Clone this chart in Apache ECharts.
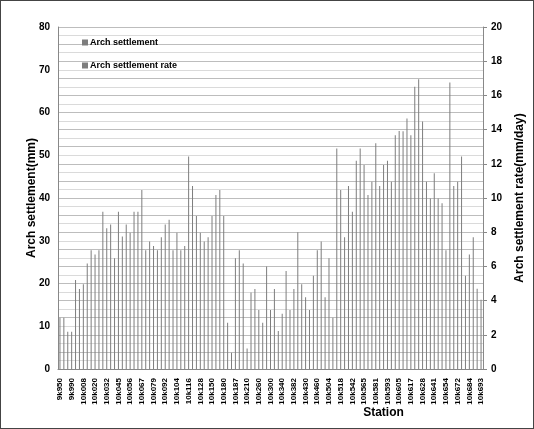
<!DOCTYPE html>
<html><head><meta charset="utf-8">
<script src="https://cdn.jsdelivr.net/npm/echarts@6/dist/echarts.min.js"></script>
<style>
html,body{margin:0;padding:0;background:#fff;}
#c{position:absolute;left:0;top:0;width:534px;height:429px;}
#frame{position:absolute;left:0;top:0;width:534px;height:429px;box-sizing:border-box;border:1px solid #444;pointer-events:none;}
</style></head>
<body>
<div id="c"></div><div id="frame"></div>
<script>
// Tick labels shown on the station axis (every third station)
const stationLabels = ['9k950','9k990','10k008','10k020','10k032','10k045','10k056','10k067','10k079','10k092','10k104','10k116','10k128','10k150','10k180','10k187','10k210','10k260','10k300','10k340','10k382','10k430','10k460','10k504','10k518','10k542','10k565','10k581','10k593','10k605','10k617','10k628','10k641','10k654','10k672','10k684','10k693'];
const stationsPerLabel = 3;
const stationCount = 109;

// Arch settlement (mm), left axis
const settlement = [
 12, 12, 8.7, 8.7, 20.8, 18.7, 19.8, 24.7, 27.8, 26.8,
 27.8, 36.8, 32.9, 33.8, 25.9, 36.8, 31, 33.8, 31.9, 36.8,
 36.8, 41.9, 27.8, 29.8, 28.8, 27.8, 30.8, 33.8, 34.9, 27.8,
 31.9, 27.8, 28.8, 49.7, 42.8, 35.8, 31.9, 29.8, 30.8, 35.8,
 40.7, 41.9, 35.8, 10.8, null, 25.9, 27.8, 24.7, 4.8, 17.9,
 18.7, 13.8, null, null, null, 18.7, 8.9, 12.9, 22.9, 13.8,
 18.7, null, null, 16.8, 13.8, 21.8, 27.8, 29.8, 16.8, 25.9,
 null, null, 41.9, 30.8, 42.8, 36.8, 48.7, 51.6, 47.7, 40.7,
 43.8, 52.8, 42.8, 47.7, 48.7, 43.8, 54.7, 55.7, null, null,
 54.7, 66, 67.8, 57.9, 43.8, 39.9, 45.8, 39.9, 38.8, 27.8,
 67, 42.8, 43.8, 49.7, 21.8, 26.8, null, null, null
];
// Arch settlement rate (mm/day), right axis
const rate = [
 null, null, null, null, null, null, null, null, null, null,
 null, null, null, null, null, null, null, null, null, null,
 null, null, null, null, null, null, null, null, null, null,
 null, null, null, null, null, null, null, null, null, null,
 null, null, null, null, 0.95, null, null, null, null, null,
 null, null, 2.7, 6.0, 3.45, null, null, null, null, null,
 null, 8.0, 4.95, null, null, null, null, null, null, null,
 3.0, 12.9, null, null, null, null, null, null, null, null,
 null, null, null, null, null, null, null, null, 13.9, 14.65,
 null, null, null, null, null, null, null, null, null, null,
 null, null, null, null, null, null, 7.7, 4.7, 4.05
];

const categories = [];
for (let i = 0; i < stationCount; i++) {
  categories.push(i % stationsPerLabel === 0 ? stationLabels[i / stationsPerLabel] : '#' + i);
}

const FONT = 'Liberation Sans';
const barColor = '#7d7d7d';
const chart = echarts.init(document.getElementById('c'), null, {renderer: 'canvas'});
chart.setOption({
  animation: false,
  backgroundColor: '#fff',
  textStyle: {fontFamily: FONT},
  grid: {left: 58, right: 50, top: 27, bottom: 60, containLabel: false},
  legend: {
    orient: 'vertical', left: 82, top: 38, itemWidth: 6, itemHeight: 6, itemGap: 14, padding: 0,
    icon: 'rect',
    textStyle: {fontSize: 9, fontWeight: 'bold', color: '#000', fontFamily: FONT, padding: [0, 0, 0, -3]},
    data: ['Arch settlement', 'Arch settlement rate']
  },
  xAxis: {
    type: 'category', data: categories, boundaryGap: true,
    name: 'Station', nameLocation: 'middle', nameGap: 38, nameMoveOverlap: false,
    nameTextStyle: {fontSize: 12, fontWeight: 'bold', color: '#000', padding: [0, 0, 0, 226]},
    axisLine: {lineStyle: {color: '#888'}},
    axisTick: {show: false},
    axisLabel: {
      interval: 0, rotate: 90, fontSize: 8, fontWeight: 'bold', color: '#000', margin: 9,
      formatter: v => v.charAt(0) === '#' ? '' : v
    },
    splitLine: {show: false}
  },
  yAxis: [
    {
      type: 'value', min: 0, max: 80, interval: 10,
      name: 'Arch settlement(mm)', nameLocation: 'middle', nameGap: 20, nameRotate: 90, nameMoveOverlap: false,
      nameTextStyle: {fontSize: 12, fontWeight: 'bold', color: '#000'},
      axisLine: {show: true, lineStyle: {color: '#888'}},
      axisTick: {show: false},
      axisLabel: {fontSize: 10, fontWeight: 'bold', color: '#000', margin: 8},
      splitLine: {show: true, lineStyle: {color: '#dadada', width: 1}},
      minorTick: {show: false, splitNumber: 5},
      minorSplitLine: {show: true, lineStyle: {color: '#dadada', width: 1}}
    },
    {
      type: 'value', min: 0, max: 20, interval: 2, position: 'right',
      name: 'Arch settlement rate(mm/day)', nameLocation: 'middle', nameGap: 31, nameRotate: 90, nameMoveOverlap: false,
      nameTextStyle: {fontSize: 12, fontWeight: 'bold', color: '#000'},
      axisLine: {show: true, lineStyle: {color: '#888'}},
      axisTick: {show: true, length: 4, lineStyle: {color: '#888'}},
      axisLabel: {fontSize: 10, fontWeight: 'bold', color: '#000', margin: 8},
      splitLine: {show: true, lineStyle: {color: '#bdbdbd', width: 1}},
      minorTick: {show: false, splitNumber: 2},
      minorSplitLine: {show: true, lineStyle: {color: '#bdbdbd', width: 1}}
    }
  ],
  series: [
    {name: 'Arch settlement', type: 'bar', yAxisIndex: 0, data: settlement, barWidth: 1, barGap: '-100%',
     itemStyle: {color: barColor}},
    {name: 'Arch settlement rate', type: 'bar', yAxisIndex: 1, data: rate, barWidth: 1, barGap: '-100%',
     itemStyle: {color: barColor}}
  ]
});
</script>
</body></html>
